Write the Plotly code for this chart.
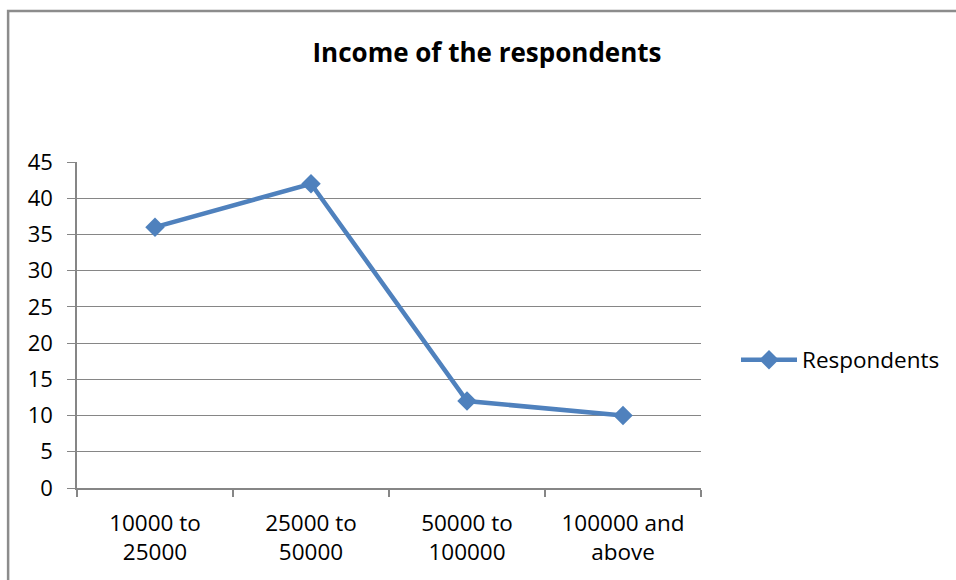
import plotly.graph_objects as go

categories = ["10000 to<br>25000", "25000 to<br>50000", "50000 to<br>100000", "100000 and<br>above"]
respondents = [36, 42, 12, 10]
y_ticks = [0, 5, 10, 15, 20, 25, 30, 35, 40, 45]

W, H = 956, 580
L, R, T, B = 77, 254, 162, 92
pw, ph = W - L - R, H - T - B

FONT = "Open Sans"
GRAY = "#868686"

fig = go.Figure()
fig.add_trace(go.Scatter(
    x=categories, y=respondents, name="Respondents",
    mode="lines+markers",
    line=dict(color="#4F81BD", width=4.5),
    marker=dict(symbol="diamond", size=15, color="#4F81BD"),
))

def px_x(p):
    return (p - L) / pw

def px_y(p):
    return (H - B - p) / ph

fig.update_layout(
    width=W, height=H,
    margin=dict(l=L, r=R, t=T, b=B),
    paper_bgcolor="white", plot_bgcolor="white",
    font=dict(family=FONT, size=22, color="black"),
    title=dict(text="<b>Income of the respondents</b>", x=487 / W, xanchor="center",
               y=1 - 53 / H, yanchor="middle", font=dict(size=26, family=FONT, color="black")),
    showlegend=True,
    legend=dict(x=px_x(736), y=px_y(360), xanchor="left", yanchor="middle",
                itemwidth=56,
                font=dict(size=22.5, family=FONT), bgcolor="rgba(0,0,0,0)"),
    xaxis=dict(
        type="category", showgrid=False, showline=True, linecolor=GRAY, linewidth=1.5,
        ticks="outside", tickson="boundaries", ticklen=7, tickcolor=GRAY, tickwidth=1.5,
        tickfont=dict(size=22.5), range=[-0.5, 3.5], ticklabelstandoff=14,
    ),
    yaxis=dict(
        range=[0, 45], tickvals=y_ticks, showgrid=True, gridcolor=GRAY, gridwidth=1,
        showline=True, linecolor=GRAY, linewidth=1.5, ticks="outside", ticklen=8,
        tickcolor=GRAY, tickwidth=1, zeroline=False, tickfont=dict(size=22),
        ticklabelstandoff=10,
    ),
    shapes=[dict(type="rect", xref="paper", yref="paper",
                 x0=px_x(8), x1=px_x(W + 10), y0=px_y(H + 10), y1=px_y(11),
                 line=dict(color="#8C8C8C", width=2.5), fillcolor="rgba(0,0,0,0)", layer="above")],
)

fig.write_html("out.html")
